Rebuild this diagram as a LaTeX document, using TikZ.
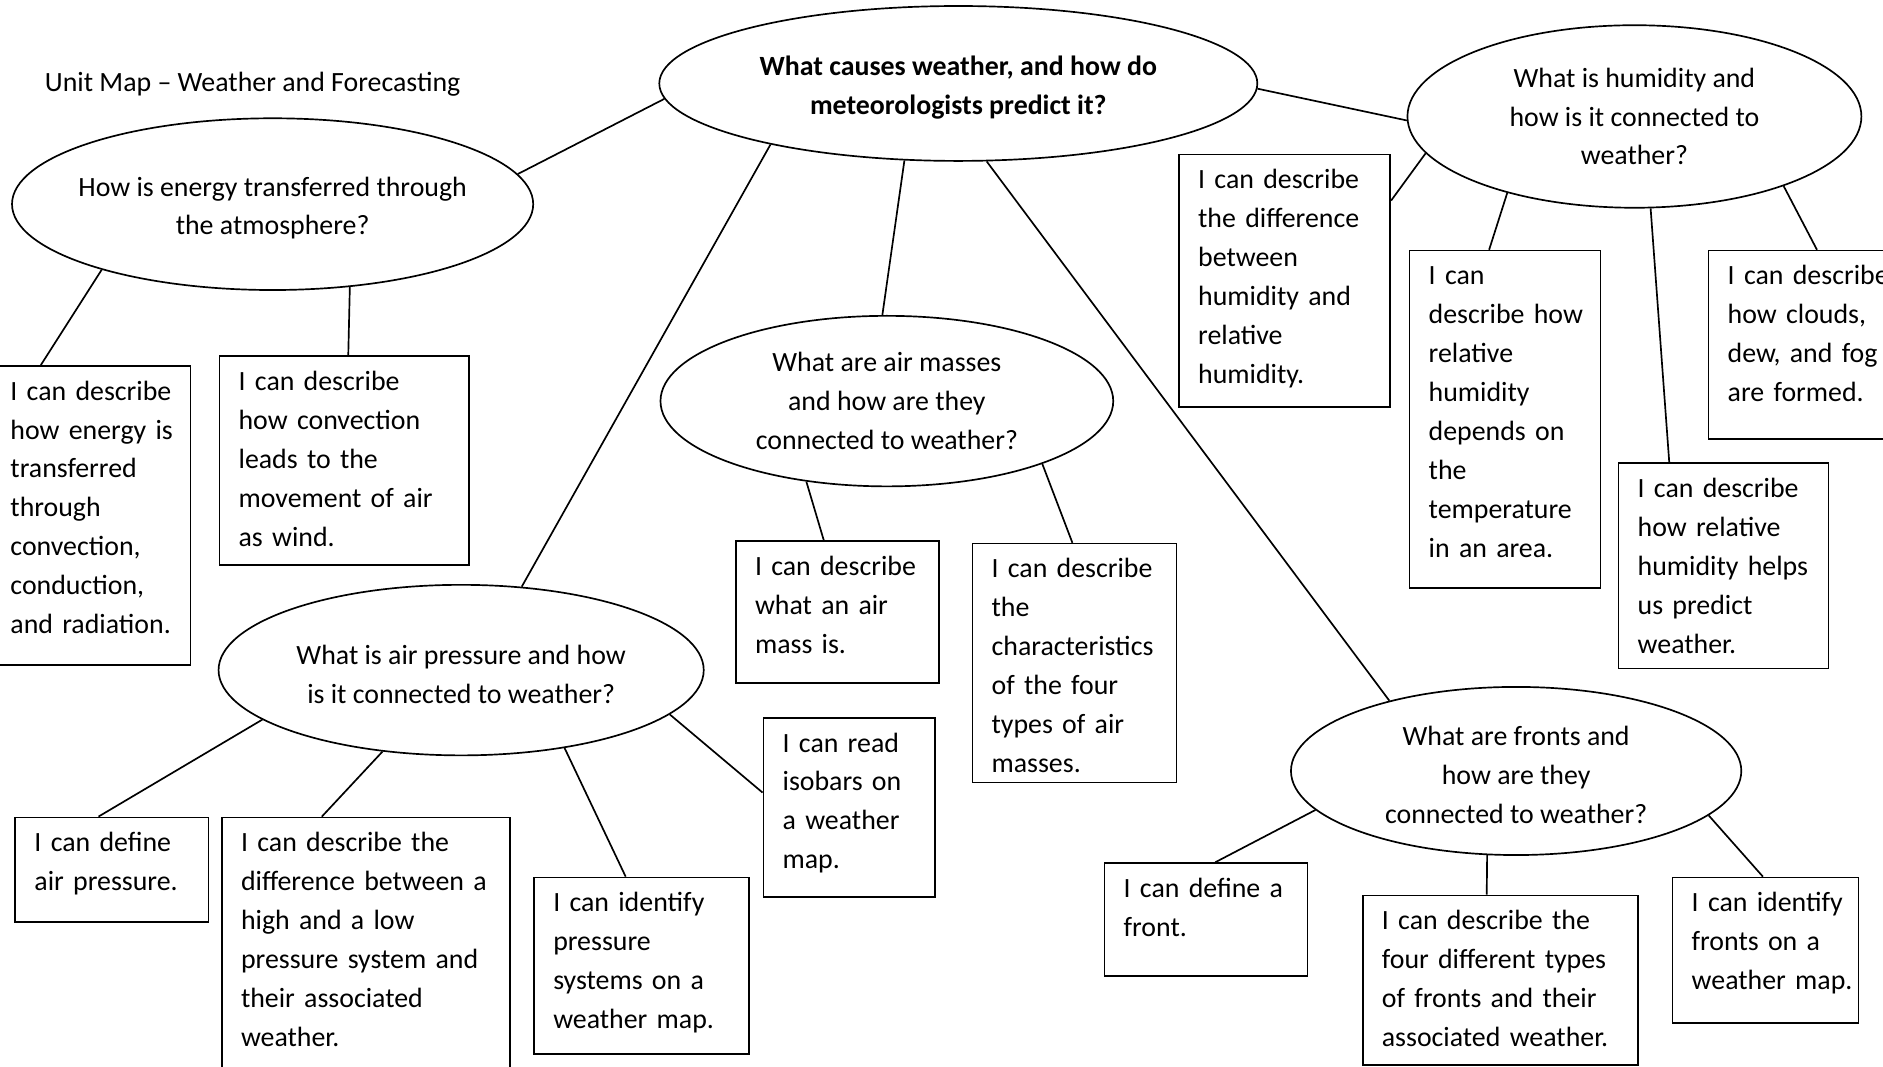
\documentclass[tikz,border=0pt]{standalone}
\usepackage{fontspec}
\setmainfont{Carlito}
\usetikzlibrary{shapes.geometric}

\begin{document}
\begin{tikzpicture}[
    x=0.5pt, y=-0.5pt,
    topic/.style={
        ellipse, draw, line width=0.7pt, inner sep=-20pt,
        align=center, font=\fontsize{11.6}{16.2}\selectfont,
    },
    goal/.style n args={2}{
        draw, line width=0.7pt, anchor=north west,
        inner sep=0pt, align=left,
        text width=#1pt, text height=14.25pt, text depth=#2pt-14.25pt,
        execute at begin node={\leftskip=8pt},
        font=\fontsize{11.6}{16.2}\selectfont,
    },
    link/.style={line width=0.7pt},
]
\useasboundingbox (0,0) rectangle (1568,888);

% ── Title ──
\node[anchor=base west, inner sep=0pt, font=\fontsize{11.6}{16.2}\selectfont] (title) at (37,76)
    {Unit Map – Weather and Forecasting};

% ── Big question and sub questions ──
\node[topic, minimum width=249pt, minimum height=64.5pt, font=\fontsize{11.6}{16.2}\selectfont\bfseries]
    (main) at (798,69.5) {\strut What causes weather, and how do\\meteorologists predict it?};
\node[topic, minimum width=217pt, minimum height=71.5pt] (energy) at (227,170)
    {\strut How is energy transferred through\\the atmosphere?};
\node[topic, minimum width=189pt, minimum height=76pt] (humid) at (1361,97)
    {What is humidity and\\how is it connected to\\weather?};
\node[topic, minimum width=188.5pt, minimum height=71pt] (air) at (738.5,334)
    {What are air masses\\and how are they\\connected to weather?};
\node[topic, minimum width=202pt, minimum height=71pt] (press) at (384,558)
    {\strut What is air pressure and how\\is it connected to weather?};
\node[topic, minimum width=187.5pt, minimum height=70pt] (fronts) at (1262.5,642)
    {\strut What are fronts and\\how are they\\connected to weather?};

% ── Energy goals ──
\node[goal={83}{124.5}] (ge1) at (-8,304)
    {I can describe\\how energy is\\transferred\\through\\convection,\\conduction,\\and radiation.};
\node[goal={104}{87}] (ge2) at (182,296)
    {I can describe\\how convection\\leads to the\\movement of air\\as wind.};

% ── Humidity goals ──
\node[goal={88}{105}] (gh1) at (981,128)
    {I can describe\\the difference\\between\\humidity and\\relative\\humidity.};
\node[goal={79.5}{140.5}] (gh2) at (1173,208)
    {I can\\describe how\\relative\\humidity\\depends on\\the\\temperature\\in an area.};
\node[goal={87.5}{85.5}] (gh3) at (1347,385)
    {I can describe\\how relative\\humidity helps\\us predict\\weather.};
\node[goal={85}{78.5}] (gh4) at (1422,208)
    {I can describe\\how clouds,\\dew, and fog\\are formed.};

% ── Air mass goals ──
\node[goal={84.5}{59}] (ga1) at (612,450)
    {I can describe\\what an air\\mass is.};
\node[goal={85}{99.5}] (ga2) at (809,452)
    {I can describe\\the\\characteristics\\of the four\\types of air\\masses.};

% ── Air pressure goals ──
\node[goal={80.5}{43.5}] (gp1) at (12,680)
    {I can define\\air pressure.};
\node[goal={120}{115}] (gp2) at (184,680)
    {I can describe the\\difference between a\\high and a low\\pressure system and\\their associated\\weather.};
\node[goal={89.5}{73.5}] (gp3) at (444,730)
    {I can identify\\pressure\\systems on a\\weather map.};
\node[goal={71.5}{74.5}] (gp4) at (635,597)
    {I can read\\isobars on\\a weather\\map.};

% ── Front goals ──
\node[goal={84.5}{47}] (gf1) at (919,718)
    {I can define a\\front.};
\node[goal={114.5}{70.5}] (gf2) at (1134,745)
    {I can describe the\\four different types\\of fronts and their\\associated weather.};
\node[goal={77.5}{60.5}] (gf3) at (1392,730)
    {I can identify\\fronts on a\\weather map.};

% ── Links from the big question ──
\draw[link] (main.183) -- (energy.7);
\draw[link] (main.-1) -- (humid.181);
\draw[link] (main.198) -- (press.54);
\draw[link] (main.235) -- (air.93);
\draw[link] (main.-70) -- (fronts.151);

% ── Links to the goals ──
\draw[link] (energy.201) -- ([xshift=21pt]ge1.north west);
\draw[link] (energy.-47) -- ([xshift=54pt]ge2.north west);

\draw[link] (humid.190) -- ([yshift=-19.5pt]gh1.north east);
\draw[link] (humid.211) -- ([xshift=33.5pt]gh2.north west);
\draw[link] (humid.-80) -- ([xshift=21.5pt]gh3.north west);
\draw[link] (humid.-25) -- ([xshift=45.5pt]gh4.north west);

\draw[link] (air.225) -- ([xshift=37pt]ga1.north west);
\draw[link] (air.-22) -- ([xshift=42pt]ga2.north west);

\draw[link] (press.194) -- ([xshift=35pt]gp1.north west);
\draw[link] (press.226) -- ([xshift=42pt]gp2.north west);
\draw[link] (press.-37) -- ([xshift=38.5pt]gp3.north west);
\draw[link] (press.-12) -- ([yshift=-31.5pt]gp4.north west);

\draw[link] (fronts.191) -- ([xshift=46.5pt]gf1.north west);
\draw[link] (fronts.251) -- ([xshift=52pt]gf2.north west);
\draw[link] (fronts.-13) -- ([xshift=38pt]gf3.north west);

\end{tikzpicture}
\end{document}
